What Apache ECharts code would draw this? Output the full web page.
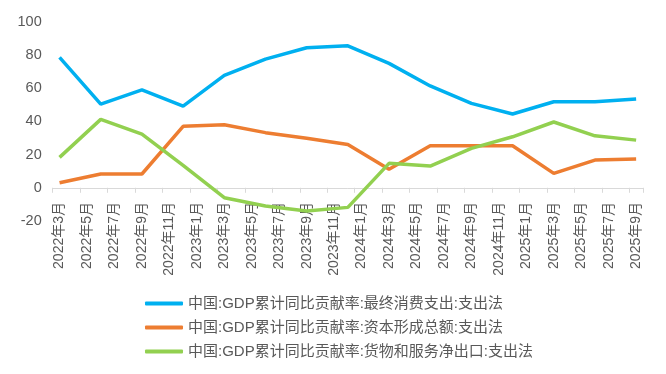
<!DOCTYPE html>
<html><head><meta charset="utf-8">
<script src="https://cdn.jsdelivr.net/npm/echarts@6/dist/echarts.min.js"></script>
<style>html,body{margin:0;padding:0;background:#fff}#c{width:666px;height:374px}</style>
</head><body><div id="c"></div>
<script>
const categories = [
 '2022年3月','2022年4月','2022年5月','2022年6月','2022年7月','2022年8月','2022年9月','2022年10月','2022年11月','2022年12月',
 '2023年1月','2023年2月','2023年3月','2023年4月','2023年5月','2023年6月','2023年7月','2023年8月','2023年9月','2023年10月','2023年11月','2023年12月',
 '2024年1月','2024年2月','2024年3月','2024年4月','2024年5月','2024年6月','2024年7月','2024年8月','2024年9月','2024年10月','2024年11月','2024年12月',
 '2025年1月','2025年2月','2025年3月','2025年4月','2025年5月','2025年6月','2025年7月','2025年8月','2025年9月'
];
const quarters = ['2022年3月','2022年6月','2022年9月','2022年12月','2023年3月','2023年6月','2023年9月','2023年12月',
 '2024年3月','2024年6月','2024年9月','2024年12月','2025年3月','2025年6月','2025年9月'];
const consumption = [78.5, 50.4, 58.9, 49.2, 67.7, 77.5, 84.3, 85.5, 74.9, 61.3, 50.8, 44.4, 51.8, 51.8, 53.4];
const capital     = [3.0, 8.3, 8.3, 37.0, 38.0, 33.2, 29.8, 26.0, 11.1, 25.3, 25.3, 25.3, 8.7, 16.7, 17.3];
const netExports  = [18.3, 41.2, 32.3, 13.5, -6.0, -11.0, -14.0, -11.8, 14.7, 13.1, 23.7, 30.7, 39.6, 31.3, 28.7];
const seriesNames = ['中国:GDP累计同比贡献率:最终消费支出:支出法','中国:GDP累计同比贡献率:资本形成总额:支出法','中国:GDP累计同比贡献率:货物和服务净出口:支出法'];
const colors = ['#00B0F0','#ED7D31','#92D050'];
const yTicks = {min:-20, max:100, interval:20};

const font = 'Liberation Sans, Arial, "Noto Sans CJK SC", sans-serif';
const pairs = arr => quarters.map((q,i)=>[q, arr[i]]);
const chart = echarts.init(document.getElementById('c'));
chart.setOption({
  animation:false,
  color: colors,
  grid:{left:52.7, right:23, top:21.7, bottom:153, containLabel:false},
  legend:{
    orient:'vertical', left:140, top:291, itemWidth:38, itemHeight:4, itemGap:9,
    icon:'roundRect',
    textStyle:{color:'#595959', fontSize:15, fontFamily:font},
    data: seriesNames
  },
  xAxis:{
    type:'category', data:categories, boundaryGap:true, z:0,
    axisLine:{onZero:true, lineStyle:{color:'#D9D9D9', width:1}},
    axisTick:{show:true, interval:1, length:5, lineStyle:{color:'#D9D9D9'}},
    axisLabel:{interval:1, rotate:90, color:'#595959', fontSize:14, fontFamily:font, margin:-19}
  },
  yAxis:{
    type:'value', min:yTicks.min, max:yTicks.max, interval:yTicks.interval,
    splitLine:{show:false}, axisLine:{show:false}, axisTick:{show:false},
    axisLabel:{color:'#595959', fontSize:14.5, fontFamily:font, margin:11}
  },
  series:[
    {name:seriesNames[0], type:'line', z:5, data:pairs(consumption), symbol:'none', lineStyle:{width:3.5, color:colors[0]}},
    {name:seriesNames[1], type:'line', z:5, data:pairs(capital), symbol:'none', lineStyle:{width:3.5, color:colors[1]}},
    {name:seriesNames[2], type:'line', z:5, data:pairs(netExports), symbol:'none', lineStyle:{width:3.5, color:colors[2]}}
  ]
});
</script></body></html>
